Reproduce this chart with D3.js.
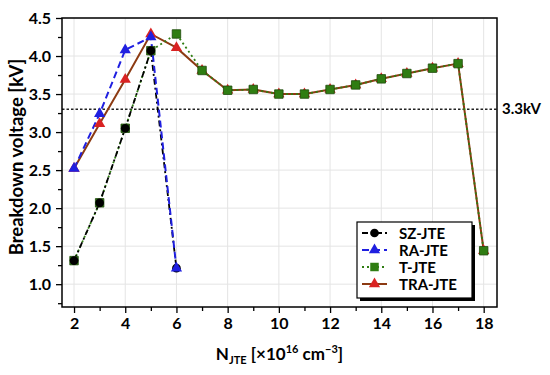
<!DOCTYPE html>
<html>
<head>
<meta charset="utf-8">
<script src="https://cdn.jsdelivr.net/npm/d3@7"></script>
<style>
  body { margin: 0; background: #fff; }
  text { font-family: Lato, "Open Sans", sans-serif; font-weight: 700; }
</style>
</head>
<body>
<div id="plot"></div>
<script>
// values
var nJte = [2, 3, 4, 5, 6, 7, 8, 9, 10, 11, 12, 13, 14, 15, 16, 17, 18];
var szJte = [1.31, 2.07, 3.05, 4.07, 1.21];
var raJte = [2.52, 3.24, 4.08, 4.25, 1.21];
var tJte = [1.31, 2.07, 3.05, 4.07, 4.29, 3.81, 3.55, 3.56, 3.50, 3.50, 3.56, 3.62, 3.70, 3.77, 3.84, 3.90, 1.44];
var traJte = [2.52, 3.11, 3.69, 4.29, 4.11, 3.81, 3.55, 3.56, 3.50, 3.50, 3.56, 3.62, 3.70, 3.77, 3.84, 3.90, 1.44];
var seriesNames = ['SZ-JTE', 'RA-JTE', 'T-JTE', 'TRA-JTE'];
var xTicks = [2, 4, 6, 8, 10, 12, 14, 16, 18];
var yTicks = [1.0, 1.5, 2.0, 2.5, 3.0, 3.5, 4.0, 4.5];
var limit = 3.3;

var W = 550, H = 375;
var margin = {t:18, r:53, b:68, l:62};
var width = W - margin.l - margin.r,
	height = H - margin.t - margin.b;

var svg = d3.select('#plot')
	.append('svg')
	.attr('width', W)
	.attr('height', H);

var plot = svg.append('g')
	.attr('transform', 'translate(' + margin.l + ',' + margin.t + ')');

var x = d3.scaleLinear().domain([1.53, 18.52]).range([0, width]);
var y = d3.scaleLinear().domain([0.7, 4.5]).range([height, 0]);

// grid
plot.append('g').selectAll('line').data(xTicks).enter().append('line')
	.attr('x1', d => x(d)).attr('x2', d => x(d))
	.attr('y1', 0).attr('y2', height)
	.style('stroke', '#e4e4e4').style('stroke-width', 1);
plot.append('g').selectAll('line').data(yTicks).enter().append('line')
	.attr('x1', 0).attr('x2', width)
	.attr('y1', d => y(d)).attr('y2', d => y(d))
	.style('stroke', '#e4e4e4').style('stroke-width', 1);

// axes
var xAxis = d3.axisBottom(x).tickValues(xTicks).tickSize(6).tickPadding(5).tickFormat(d3.format('d'));
var xMinor = d3.axisBottom(x).tickValues(d3.range(3, 19, 2)).tickSize(4).tickFormat('');
var yAxis = d3.axisLeft(y).tickValues(yTicks).tickSize(6).tickPadding(5).tickFormat(d3.format('.1f'));
var yMinor = d3.axisLeft(y).tickValues(d3.range(0.75, 4.5, 0.5)).tickSize(4).tickFormat('');

function styleAxis(g) {
	g.select('.domain').remove();
	g.selectAll('line').style('stroke', '#000').style('stroke-width', 1.3);
	g.selectAll('text').style('font-size', '16px').style('fill', '#000');
}
plot.append('g').attr('transform', 'translate(0,' + height + ')').call(xAxis).call(styleAxis);
plot.append('g').attr('transform', 'translate(0,' + height + ')').call(xMinor).call(styleAxis);
plot.append('g').call(yAxis).call(styleAxis);
plot.append('g').call(yMinor).call(styleAxis);

// 3.3 kV reference
plot.append('line')
	.attr('x1', 0).attr('x2', width)
	.attr('y1', y(limit)).attr('y2', y(limit))
	.style('stroke', '#222').style('stroke-width', 1.3).style('stroke-dasharray', '2.5,2');
plot.append('text')
	.attr('x', width + 5).attr('y', y(limit) + 5)
	.style('font-size', '15px')
	.text('3.3kV');

// series
var styles = {
	'SZ-JTE': {color:'#000', dash:'6,3,2,3', w:1.8, marker:'circle', fill:'#000'},
	'RA-JTE': {color:'#1f1fe0', dash:'7,4', w:2, marker:'triangle', fill:'#1f1fe0'},
	'T-JTE': {color:'#2f7d12', dash:'2,3', w:1.8, marker:'square', fill:'#2f7d12'},
	'TRA-JTE': {color:'#8c3a12', dash:null, w:2, marker:'triangle', fill:'#d92222'}
};
var data = {
	'SZ-JTE': szJte.map((v, i) => [nJte[i], v]),
	'RA-JTE': raJte.map((v, i) => [nJte[i], v]),
	'T-JTE': tJte.map((v, i) => [nJte[i], v]),
	'TRA-JTE': traJte.map((v, i) => [nJte[i], v])
};
var line = d3.line().x(d => x(d[0])).y(d => y(d[1]));
var symbols = {circle: d3.symbolCircle, triangle: d3.symbolTriangle, square: d3.symbolSquare};
var sizes = {circle: 60, triangle: 55, square: 72};

var lineOrder = ['TRA-JTE', 'T-JTE', 'SZ-JTE', 'RA-JTE'];
lineOrder.forEach(function (name) {
	var s = styles[name];
	plot.append('path')
		.datum(data[name])
		.attr('d', line)
		.style('fill', 'none')
		.style('stroke', s.color)
		.style('stroke-width', s.w)
		.style('stroke-dasharray', s.dash);
});
var markerOrder = ['TRA-JTE', 'T-JTE', 'SZ-JTE', 'RA-JTE'];
markerOrder.forEach(function (name) {
	var s = styles[name];
	plot.append('g').selectAll('path').data(data[name]).enter().append('path')
		.attr('d', d3.symbol().type(symbols[s.marker]).size(sizes[s.marker]))
		.attr('transform', d => 'translate(' + x(d[0]) + ',' + y(d[1]) + ')')
		.style('fill', s.fill)
		.style('stroke', name === 'T-JTE' ? '#1e4a0a' : 'none')
		.style('stroke-width', 0.8);
});

// frame
plot.append('rect')
	.attr('width', width).attr('height', height)
	.style('fill', 'none').style('stroke', '#000').style('stroke-width', 1.5);

// legend
var lg = plot.append('g').attr('transform', 'translate(' + (357 - margin.l) + ',' + (222 - margin.t) + ')');
lg.append('rect').attr('x', 3).attr('y', 3).attr('width', 115).attr('height', 76).style('fill', '#000');
lg.append('rect').attr('width', 115).attr('height', 76)
	.style('fill', '#fff').style('stroke', '#000').style('stroke-width', 1.2);
seriesNames.forEach(function (name, i) {
	var s = styles[name];
	var ry = 11 + i * 17;
	lg.append('line')
		.attr('x1', 5).attr('x2', 30).attr('y1', ry).attr('y2', ry)
		.style('stroke', s.color).style('stroke-width', s.w)
		.style('stroke-dasharray', s.dash);
	lg.append('path')
		.attr('d', d3.symbol().type(symbols[s.marker]).size(sizes[s.marker]))
		.attr('transform', 'translate(17.5,' + ry + ')')
		.style('fill', s.fill);
	lg.append('text')
		.attr('x', 42).attr('y', ry + 5.5)
		.style('font-size', '15px')
		.text(name);
});

// axis titles
svg.append('text')
	.attr('transform', 'translate(23,157) rotate(-90)')
	.attr('text-anchor', 'middle')
	.style('font-size', '18.5px')
	.text('Breakdown voltage [kV]');

var xt = svg.append('text')
	.attr('x', margin.l + width / 2).attr('y', 360)
	.attr('text-anchor', 'middle')
	.style('font-size', '17px');
xt.append('tspan').text('N');
xt.append('tspan').attr('dy', 4).style('font-size', '11px').text('JTE');
xt.append('tspan').attr('dy', -4).text(' [×10');
xt.append('tspan').attr('dy', -7).style('font-size', '11px').text('16');
xt.append('tspan').attr('dy', 7).text(' cm');
xt.append('tspan').attr('dy', -7).style('font-size', '11px').text('−3');
xt.append('tspan').attr('dy', 7).text(']');
</script>
</body>
</html>
